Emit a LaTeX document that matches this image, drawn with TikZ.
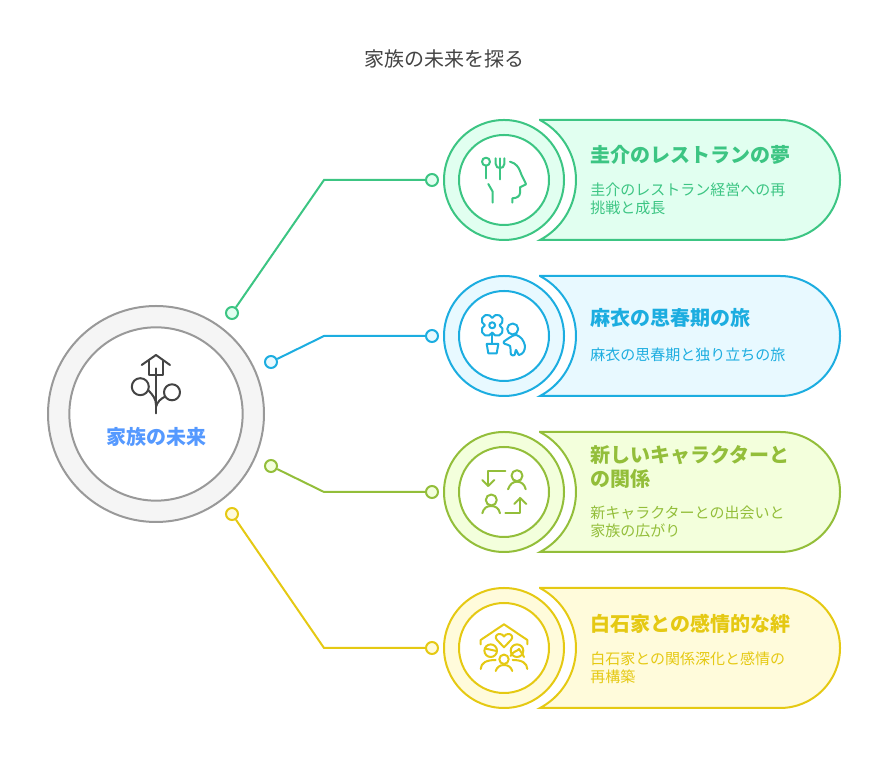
\documentclass[tikz,border=0pt]{standalone}
\usepackage{fontspec}
\setmainfont{Noto Sans CJK JP}
\usepackage{xcolor}
\usetikzlibrary{positioning}
\definecolor{titlegray}{HTML}{444444}
\definecolor{hubline}{HTML}{999999}
\definecolor{hubfill}{HTML}{F5F5F5}
\definecolor{hubtext}{HTML}{5599FF}
\definecolor{greenline}{HTML}{3CC583}
\definecolor{greenfill}{HTML}{E1FFF0}
\definecolor{blueline}{HTML}{1CADE0}
\definecolor{bluefill}{HTML}{E8F9FF}
\definecolor{oliveline}{HTML}{93BE3A}
\definecolor{olivefill}{HTML}{F3FFDC}
\definecolor{yellowline}{HTML}{E5C913}
\definecolor{yellowfill}{HTML}{FFFBDB}
\tikzset{
  ringline/.style={line width=1.5pt},
  iconline/.style={line width=1.5pt, line cap=round, line join=round},
  dotnode/.style={circle, line width=1.5pt, minimum size=9pt, inner sep=0pt},
  headtext/.style={inner sep=0pt, align=left, font=\fontsize{15pt}{18pt}\selectfont\bfseries},
  bodytext/.style={inner sep=0pt, align=left, font=\fontsize{11.25pt}{13.5pt}\selectfont}
}
\begin{document}
\begin{tikzpicture}[x=0.75pt,y=0.75pt]
  \useasboundingbox (0,0) rectangle (888,780);
  \node[text=titlegray, font=\fontsize{15pt}{18pt}\selectfont] (title) at (444,721) {家族の未来を探る};
  % hub
  \node[circle, ringline, draw=hubline, fill=hubfill, minimum size=162pt, inner sep=0pt] (hubout) at (156,366) {};
  \node[circle, ringline, draw=hubline, fill=white, minimum size=130pt, inner sep=0pt] (hubin) at (156,366) {};
  \node[text=hubtext, font=\fontsize{15pt}{18pt}\selectfont\bfseries] (hublabel) at (156,343) {家族の未来};
  \begin{scope}[shift={(156,366)}, draw=titlegray, line width=1.5pt, line cap=round, line join=round]
    \draw (-14.3,49) -- (0,59) -- (14,49);
    \draw (-7.3,53) -- (-7.3,39.3) -- (7.3,39.3) -- (7.3,53);
    \draw (0,45.7) -- (0,0.7);
    \draw (-15.7,27.3) circle (8.5);
    \draw (16,21.7) circle (8);
    \draw (-8,24) .. controls (-3,19) and (0,15) .. (0,9);
    \draw (9,17.3) .. controls (5,15.5) and (1,12) .. (0,7);
  \end{scope}
  % rows
  \foreach \rowname/\cy/\sx/\sy/\linec/\fillc/\heady/\bgap/\headtxt/\bodytxt in {
    keisuke/600/232/467/greenline/greenfill/25/13pt/{圭介のレストランの夢}/{圭介のレストラン経営への再\\挑戦と成長},
    mai/444/271/418/blueline/bluefill/18/14.5pt/{麻衣の思春期の旅}/{麻衣の思春期と独り立ちの旅},
    chara/288/271/314/oliveline/olivefill/25/13pt/{新しいキャラクターと\\の関係}/{新キャラクターとの出会いと\\家族の広がり},
    shiraishi/132/232/266/yellowline/yellowfill/24/13pt/{白石家との感情的な絆}/{白石家との関係深化と感情の\\再構築}} {
    \node[dotnode, draw=\linec, fill=\fillc] (\rowname start) at (\sx,\sy) {};
    \node[dotnode, draw=\linec, fill=\fillc] (\rowname end) at (432,\cy) {};
    \coordinate (\rowname bend) at (324,\cy);
    \draw[ringline, \linec] (\rowname start) -- (\rowname bend) -- (\rowname end);
    \begin{scope}[shift={(504,\cy)}]
      \draw[ringline, draw=\linec, fill=\fillc] (36,60) -- (276,60) arc (90:-90:60) -- (36,-60) arc (-61.9:61.9:68) -- cycle;
      \node[circle, ringline, draw=\linec, fill=\fillc, minimum size=90pt, inner sep=0pt] (\rowname out) at (0,0) {};
      \node[circle, ringline, draw=\linec, fill=white, minimum size=67.5pt, inner sep=0pt] (\rowname in) at (0,0) {};
      \node[headtext, text=\linec, anchor=west] (\rowname head) at (86,\heady) {\headtxt};
      \node[bodytext, text=\linec, below=\bgap of \rowname head.south west, anchor=north west] (\rowname body) {\bodytxt};
    \end{scope}
  }
  % icons
  \begin{scope}[shift={(504,600)}, iconline, draw=greenline]
    \draw (-18,18.3) circle (4);
    \draw (-18,14.3) -- (-18,1.7);
    \draw (-4,21.7) -- (-4,0.7);
    \draw (-8.3,21.7) -- (-8.3,16) .. controls (-8.3,13) and (-6,12) .. (-4,12) .. controls (-2,12) and (0.3,13) .. (0.3,16) -- (0.3,21.7);
    \draw (6,18.3) .. controls (12,17) and (15,12) .. (16,9) .. controls (18,3) and (21,-1) .. (22,-4.3) -- (16,-7.3) -- (16,-13) .. controls (16,-16) and (13,-18.3) .. (8.3,-18.3) -- (8.3,-22.7);
    \draw (-15.7,-4) -- (-11.3,-11.7) -- (-11.3,-22.7);
  \end{scope}
  \begin{scope}[shift={(504,444)}, iconline, draw=blueline]
    \draw (-11.8,10.7) circle (3);
    \draw (-11.8,18) arc (155.3:-65.3:5.5) arc (65.3:-155.3:5.5) arc (-24.7:-245.3:5.5) arc (-114.7:-335.3:5.5) -- cycle;
    \draw (-11.8,3.4) -- (-11.8,-8);
    \draw (-17.3,-8) -- (-5.7,-8) -- (-7.3,-17.3) -- (-15.7,-17.3) -- cycle;
    \draw (8.7,7) circle (5.5);
    \draw plot[smooth cycle, tension=0.5] coordinates {(0,-5.5) (11,1) (18,-3) (21,-10) (19.5,-16) (15,-19) (12,-14) (10.5,-19) (7,-18.5) (6,-10) (1,-8)};
  \end{scope}
  \begin{scope}[shift={(504,288)}, iconline, draw=oliveline]
    \draw (1.3,21) -- (-15.7,21) -- (-15.7,6);
    \draw (-21.7,12) -- (-15.7,6) -- (-9.7,12);
    \draw (13,16.3) circle (5.5);
    \draw (4,2.7) .. controls (6,8) and (9,10.3) .. (13,10.3) .. controls (17,10.3) and (20.5,8) .. (21.7,2.7);
    \draw (-12.7,-8) circle (5.5);
    \draw (-21.7,-21.3) .. controls (-20.5,-16) and (-17,-14) .. (-12.8,-14) .. controls (-9,-14) and (-5,-16) .. (-4,-21.3);
    \draw (1.3,-20.7) -- (16.3,-20.7) -- (16.3,-6);
    \draw (10.3,-12) -- (16.3,-6) -- (22.3,-12);
  \end{scope}
  \begin{scope}[shift={(504,132)}, iconline, draw=yellowline]
    \draw (-23.3,3.7) -- (-23.3,8) -- (0,23.7) -- (23.3,8) -- (23.3,3.7);
    \draw (0,0.7) -- (-7,8) .. controls (-10,11) and (-7,14.5) .. (-4,14) .. controls (-2,13.8) and (-1,13) .. (0,11.5) .. controls (1,13) and (2,13.8) .. (4,14) .. controls (7,14.5) and (10,11) .. (7,8) -- cycle;
    \draw (-13.3,-2.7) circle (6.3);
    \draw (-19,-0.5) -- (-7.5,-3);
    \draw (13,-2.7) circle (6.3);
    \draw (6.5,-8) .. controls (9,-3) and (14,-3) .. (15,-1) .. controls (16,-3) and (18,-5) .. (20,-9);
    \draw (-23.3,-21) .. controls (-23,-15) and (-18,-12) .. (-8.3,-12);
    \draw (23.3,-21) .. controls (23,-15) and (18,-12) .. (8.7,-12);
    \draw (0,-11.3) circle (4.7);
    \draw (-8.3,-23) .. controls (-7,-19) and (-4,-17) .. (0,-17) .. controls (4,-17) and (7,-19) .. (8.3,-23);
  \end{scope}
\end{tikzpicture}
\end{document}
